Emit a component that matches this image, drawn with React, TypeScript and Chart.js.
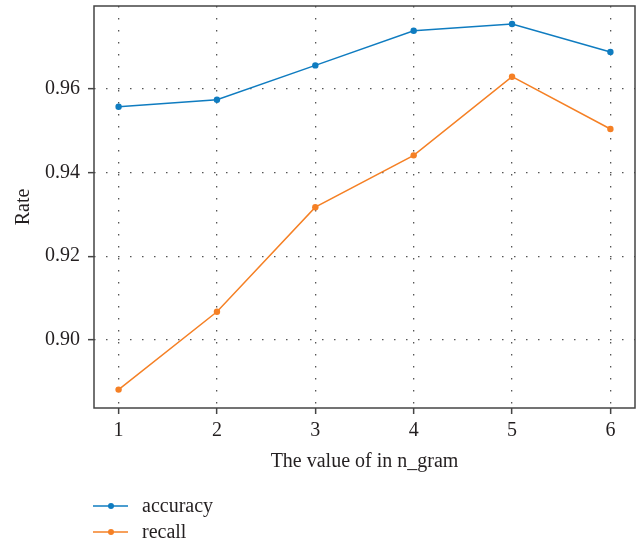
import React, { useEffect, useRef } from "react";
import { Chart, registerables } from "chart.js";

Chart.register(...registerables);

const nGram = [1, 2, 3, 4, 5, 6];
const accuracy = [0.9557, 0.9574, 0.9656, 0.9739, 0.9755, 0.9688];
const recall = [0.8881, 0.9067, 0.9317, 0.9441, 0.9629, 0.9504];
const seriesLabels = ["accuracy", "recall"];
const seriesColors = ["#0f7cc0", "#f58025"];
const xTitle = "The value of in n_gram";
const yTitle = "Rate";

const FONT = "'Liberation Serif', 'Times New Roman', serif";
const TEXT = "#231f20";

const framePlugin = {
  id: "frameAndLegend",
  afterDraw(chart: any) {
    const { ctx, chartArea } = chart;
    ctx.save();
    ctx.strokeStyle = "#444";
    ctx.lineWidth = 1.5;
    ctx.setLineDash([]);
    ctx.strokeRect(chartArea.left, chartArea.top, chartArea.right - chartArea.left, chartArea.bottom - chartArea.top);
    const ys = [506, 532];
    chart.data.datasets.forEach((ds: any, i: number) => {
      const y = ys[i];
      ctx.strokeStyle = ds.borderColor;
      ctx.lineWidth = 1.5;
      ctx.beginPath();
      ctx.moveTo(93, y);
      ctx.lineTo(128, y);
      ctx.stroke();
      ctx.fillStyle = ds.borderColor;
      ctx.beginPath();
      ctx.arc(111, y, 3, 0, Math.PI * 2);
      ctx.fill();
      ctx.fillStyle = TEXT;
      ctx.font = `20px ${FONT}`;
      ctx.textBaseline = "middle";
      ctx.textAlign = "left";
      ctx.fillText(ds.label, 142, y + 1);
    });
    ctx.restore();
  },
};

const zeroPad = (s: any) => {
  s.paddingTop = 0;
  s.paddingBottom = 0;
  s.paddingLeft = 0;
  s.paddingRight = 0;
};

export default function App() {
  const ref = useRef<HTMLCanvasElement>(null);
  useEffect(() => {
    if (!ref.current) return;
    const series = [accuracy, recall];
    const chart = new Chart(ref.current, {
      type: "line",
      data: {
        datasets: series.map((vals, i) => ({
          label: seriesLabels[i],
          data: nGram.map((x, j) => ({ x, y: vals[j] })),
          borderColor: seriesColors[i],
          backgroundColor: seriesColors[i],
          pointBackgroundColor: seriesColors[i],
          pointBorderWidth: 0,
          pointRadius: 3.2,
          borderWidth: 1.5,
          tension: 0,
          fill: false,
        })),
      },
      options: {
        responsive: false,
        animation: false,
        layout: { padding: { left: 0, right: 1, top: 6, bottom: 66 } },
        plugins: { legend: { display: false }, tooltip: { enabled: false } },
        font: { family: FONT, size: 20 },
        color: TEXT,
        scales: {
          x: {
            type: "linear",
            min: 0.75,
            max: 6.25,
            afterFit: (s: any) => {
              s.height = 67;
              zeroPad(s);
            },
            ticks: {
              stepSize: 1,
              includeBounds: false,
              padding: 5,
              color: TEXT,
              font: { family: FONT, size: 20 },
              autoSkip: false,
              maxRotation: 0,
            },
            grid: {
              color: "#555",
              lineWidth: 1.3,
              tickLength: 6,
              tickColor: "#444",
              tickWidth: 1.5,
              tickBorderDash: [],
              borderDash: [1.5, 10.5],
            } as any,
            border: { display: false, dash: [1.5, 10.5] },
            title: {
              display: true,
              text: xTitle,
              color: TEXT,
              font: { family: FONT, size: 20 },
              padding: { top: 1, bottom: 1 },
            },
          },
          y: {
            type: "linear",
            min: 0.8837,
            max: 0.9798,
            afterFit: (s: any) => {
              s.width = 94;
              zeroPad(s);
            },
            ticks: {
              stepSize: 0.02,
              includeBounds: false,
              padding: 8,
              color: TEXT,
              font: { family: FONT, size: 20 },
              callback: (v: any) => Number(v).toFixed(2),
            },
            grid: {
              color: "#555",
              lineWidth: 1.3,
              tickLength: 6,
              tickColor: "#444",
              tickWidth: 1.5,
              tickBorderDash: [],
              borderDash: [1.5, 10.5],
            } as any,
            border: { display: false, dash: [1.5, 10.5] },
            title: {
              display: true,
              text: yTitle,
              color: TEXT,
              font: { family: FONT, size: 20 },
              padding: { top: 12, bottom: 12 },
            },
          },
        },
      },
      plugins: [framePlugin],
    } as any);
    return () => chart.destroy();
  }, []);
  return (
    <div style={{ position: "absolute", left: 0, top: 0, width: 636, height: 541, background: "#fff", overflow: "hidden" }}>
      <canvas ref={ref} width={639} height={541} style={{ display: "block" }} />
    </div>
  );
}
